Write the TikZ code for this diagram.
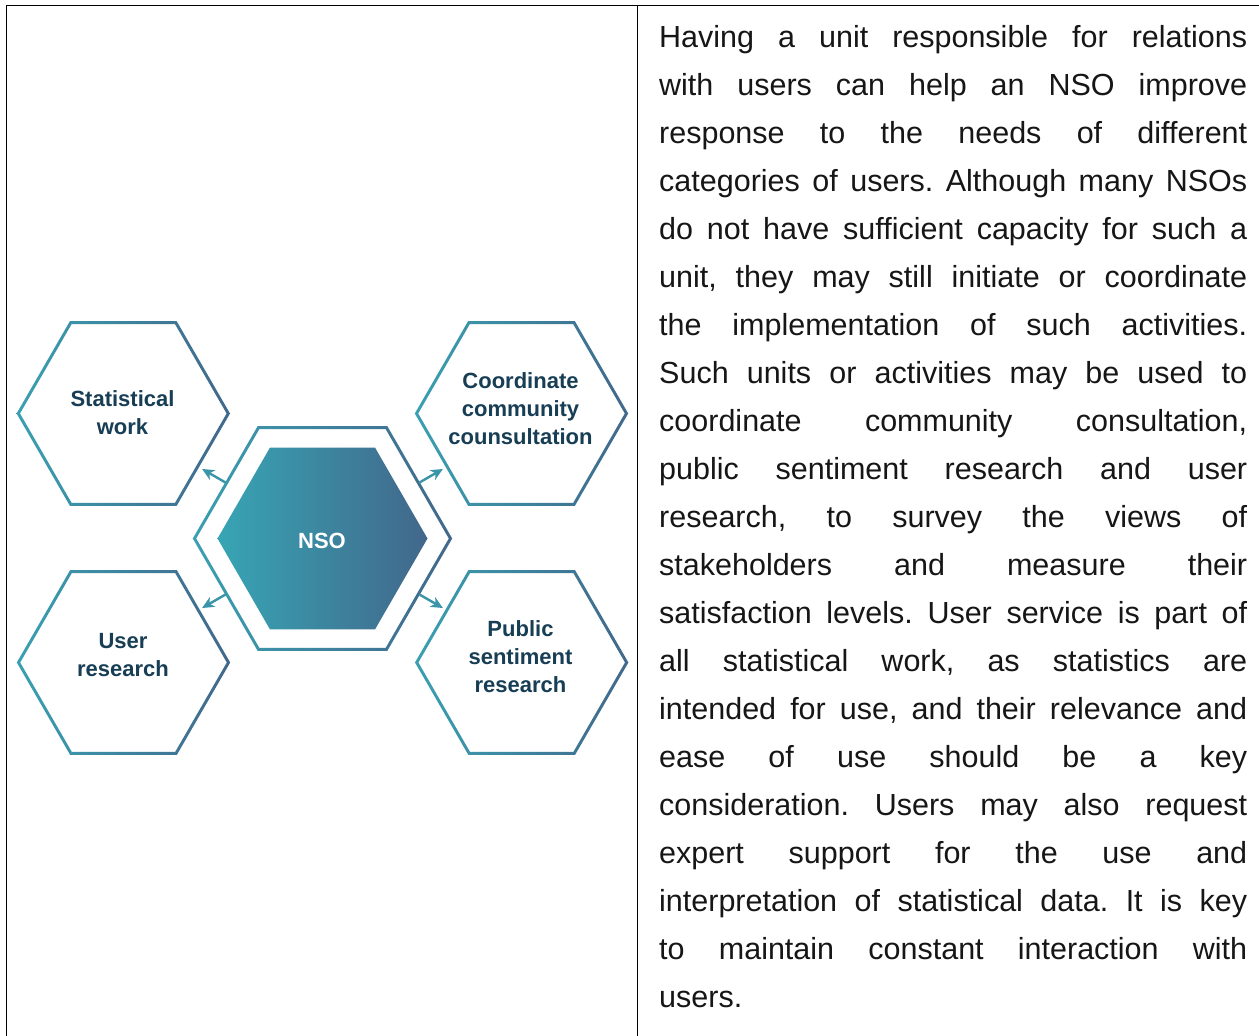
\documentclass[tikz,border=0pt]{standalone}
\usepackage{fontspec}
\setmainfont{Liberation Sans}
\usetikzlibrary{arrows.meta,calc}
\definecolor{hexA}{HTML}{3AA0B1}
\definecolor{hexB}{HTML}{41688C}
\definecolor{fillA}{HTML}{37A5B4}
\definecolor{fillB}{HTML}{42678B}
\definecolor{navy}{HTML}{173E55}
\definecolor{arrc}{HTML}{3A95A9}
\definecolor{txtc}{HTML}{161616}
\newcommand\hexring[2]{%
  \shade[left color=hexA, right color=hexB, even odd rule]
    ([shift={(#1)}]0:{#2+1.7}) -- ([shift={(#1)}]60:{#2+1.7}) -- ([shift={(#1)}]120:{#2+1.7}) --
    ([shift={(#1)}]180:{#2+1.7}) -- ([shift={(#1)}]240:{#2+1.7}) -- ([shift={(#1)}]300:{#2+1.7}) -- cycle
    ([shift={(#1)}]0:{#2-1.7}) -- ([shift={(#1)}]60:{#2-1.7}) -- ([shift={(#1)}]120:{#2-1.7}) --
    ([shift={(#1)}]180:{#2-1.7}) -- ([shift={(#1)}]240:{#2-1.7}) -- ([shift={(#1)}]300:{#2-1.7}) -- cycle;}
\begin{document}
\begin{tikzpicture}[x=1pt,y=-1pt,
  lab/.style={font=\fontsize{22}{28}\selectfont\bfseries, text=navy, align=center, inner sep=0pt},
  arr/.style={draw=arrc, line width=2.4pt, -{Stealth[length=12pt,width=11pt,inset=3.5pt]}},
  frame/.style={draw=black, line width=1.2pt}]
\useasboundingbox (0,0) rectangle (1259,1036);
\fill[white] (0,0) rectangle (1259,1036);
% frame
\draw[frame] (6.5,1036) -- (6.5,5.5) -- (1259,5.5);
\draw[frame] (637.5,5.5) -- (637.5,1036);
% centres
\coordinate (nso) at (322.5,538.5);
\coordinate (sw) at (123.3,413.5);
\coordinate (cc) at (521.5,413.5);
\coordinate (ur) at (123.5,662.5);
\coordinate (ps) at (521.7,662.5);
% hexagons
\hexring{sw}{105}
\hexring{cc}{105}
\hexring{ur}{105}
\hexring{ps}{105}
\hexring{nso}{128}
\shade[left color=fillA, right color=fillB]
  ([shift={(nso)}]0:105) -- ([shift={(nso)}]60:105) -- ([shift={(nso)}]120:105) --
  ([shift={(nso)}]180:105) -- ([shift={(nso)}]240:105) -- ([shift={(nso)}]300:105) -- cycle;
% labels
\node[lab] (swt) at (122.5,413) {Statistical\\work};
\node[lab] (cct) at (520.5,409) {Coordinate\\community\\counsultation};
\node[lab] (urt) at (123,655) {User\\research};
\node[lab] (pst) at (520.5,657) {Public\\sentiment\\research};
\node[lab, text=white] (nsot) at (322,541) {NSO};
% arrows
\coordinate (s1) at ($(nso)+(150:112)$);
\coordinate (t1) at ($(s1)+(150:27)$);
\coordinate (s2) at ($(nso)+(30:112)$);
\coordinate (t2) at ($(s2)+(30:27)$);
\coordinate (s3) at ($(nso)+(210:112)$);
\coordinate (t3) at ($(s3)+(210:27)$);
\coordinate (s4) at ($(nso)+(330:112)$);
\coordinate (t4) at ($(s4)+(330:27)$);
\draw[arr] (s1) -- (t1);
\draw[arr] (s2) -- (t2);
\draw[arr] (s3) -- (t3);
\draw[arr] (s4) -- (t4);
% paragraph
\node[anchor=base west, inner sep=0pt, text=txtc] (para) at (659,47.5) {\parbox[t]{588pt}{%
\fontsize{30.5}{48}\selectfont\frenchspacing\tolerance=10000\hbadness=10000\hyphenpenalty=10000
Having a unit responsible for relations \linebreak
with users can help an NSO improve \linebreak
response to the needs of different \linebreak
categories of users. Although many NSOs \linebreak
do not have sufficient capacity for such a \linebreak
unit, they may still initiate or coordinate \linebreak
the implementation of such activities. \linebreak
Such units or activities may be used to \linebreak
coordinate community consultation, \linebreak
public sentiment research and user \linebreak
research, to survey the views of \linebreak
stakeholders and measure their \linebreak
satisfaction levels. User service is part of \linebreak
all statistical work, as statistics are \linebreak
intended for use, and their relevance and \linebreak
ease of use should be a key \linebreak
consideration. Users may also request \linebreak
expert support for the use and \linebreak
interpretation of statistical data. It is key \linebreak
to maintain constant interaction with \linebreak
users.}};
\end{tikzpicture}
\end{document}
